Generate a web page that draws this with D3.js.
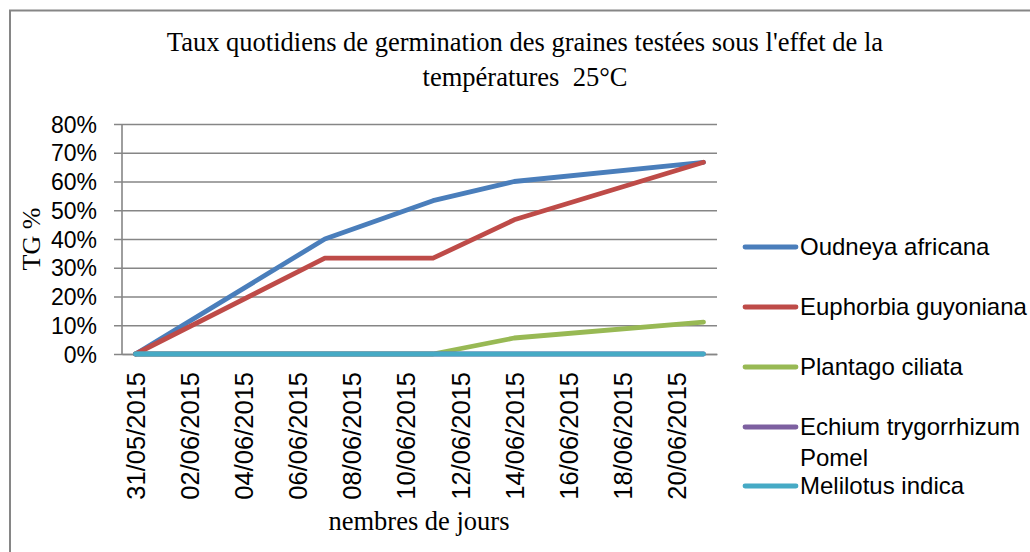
<!DOCTYPE html>
<html>
<head>
<meta charset="utf-8">
<script src="https://cdn.jsdelivr.net/npm/d3@7"></script>
<style>
  html, body { margin: 0; padding: 0; background: #fff; }
  svg { display: block; }
</style>
</head>
<body>
<svg id="chart" width="1030" height="552"></svg>
<script>
// ---- data ----
const titleLines = ["Taux quotidiens de germination des graines testées sous l'effet de la", "températures  25°C"];
const yTitle = "TG %";
const xTitle = "nembres de jours";
const obsDates = ["31/05/2015", "07/06/2015", "11/06/2015", "14/06/2015", "21/06/2015"];
const seriesNames = ["Oudneya africana", "Euphorbia guyoniana", "Plantago ciliata", "Echium trygorrhizum Pomel", "Melilotus indica"];
const oudneya   = [0, 0.40, 0.5333, 0.60, 0.6667];
const euphorbia = [0, 0.3333, 0.3333, 0.4667, 0.6667];
const plantago  = [0, 0, 0, 0.0556, 0.1111];
const echium    = [0, 0, 0, 0, 0];
const melilotus = [0, 0, 0, 0, 0];
const seriesColors = ["#4A7EBB", "#BE4B48", "#98B954", "#7D60A0", "#46AAC5"];
const xTickLabels = ["31/05/2015", "02/06/2015", "04/06/2015", "06/06/2015", "08/06/2015", "10/06/2015",
                     "12/06/2015", "14/06/2015", "16/06/2015", "18/06/2015", "20/06/2015"];
const yTicks = [0, 0.1, 0.2, 0.3, 0.4, 0.5, 0.6, 0.7, 0.8];

const seriesValues = [oudneya, euphorbia, plantago, echium, melilotus];

// ---- layout ----
const parse = d3.timeParse("%d/%m/%Y");
const svg = d3.select("#chart");
const sans = "'Liberation Sans', Arial, sans-serif";
const serif = "'Liberation Serif', 'Times New Roman', serif";
const gridColor = "#868686";

const plot = { left: 122, right: 717, top: 124, bottom: 354 };

const firstDay = parse(obsDates[0]);
const lastDay = parse(obsDates[obsDates.length - 1]);
const x = d3.scaleTime()
  .domain([d3.timeHour.offset(firstDay, -12), d3.timeHour.offset(lastDay, 12)])
  .range([plot.left, plot.right]);
const y = d3.scaleLinear().domain([0, 0.8]).range([plot.bottom, plot.top]);

svg.append("rect").attr("width", 1030).attr("height", 552).attr("fill", "#fff");

// outer chart border (right/bottom cropped)
svg.append("rect")
  .attr("x", 10).attr("y", 10.5).attr("width", 1040).attr("height", 560)
  .attr("fill", "none").attr("stroke", gridColor).attr("stroke-width", 2);

// title
const title = svg.append("text")
  .attr("font-family", serif).attr("font-size", 26.5).attr("fill", "#000")
  .attr("text-anchor", "middle")
  .style("white-space", "pre");
titleLines.forEach((t, i) => {
  title.append("tspan").attr("x", 525).attr("y", 51 + i * 35)
    .style("white-space", "pre").text(t);
});

// y axis with gridlines
const yAxis = d3.axisLeft(y)
  .tickValues(yTicks)
  .tickSize(-(plot.right - plot.left))
  .tickPadding(25)
  .tickFormat(d3.format(".0%"));
const gy = svg.append("g").attr("transform", `translate(${plot.left},0)`).call(yAxis);
gy.select(".domain").remove();
gy.selectAll(".tick line")
  .attr("x1", -8)
  .attr("stroke", gridColor).attr("stroke-width", 1.6);
gy.selectAll(".tick text")
  .attr("font-family", sans).attr("font-size", 23).attr("fill", "#000")
  .attr("x", -25).attr("dy", "0.35em");

// y axis line
svg.append("line")
  .attr("x1", plot.left).attr("x2", plot.left)
  .attr("y1", plot.top).attr("y2", plot.bottom)
  .attr("stroke", gridColor).attr("stroke-width", 1.6);

// x axis
const xAxis = d3.axisBottom(x)
  .tickValues(xTickLabels.map(parse))
  .tickSize(0)
  .tickFormat(d3.timeFormat("%d/%m/%Y"));
const gx = svg.append("g").attr("transform", `translate(0,${plot.bottom})`).call(xAxis);
gx.select(".domain").attr("stroke", gridColor).attr("stroke-width", 1.6);
gx.selectAll(".tick text")
  .attr("font-family", sans).attr("font-size", 25.5).attr("fill", "#000")
  .attr("text-anchor", "end")
  .attr("transform", "translate(0,18) rotate(-90)")
  .attr("x", 0).attr("y", 0).attr("dy", "0.35em");

// lines
const line = d3.line()
  .x((d, i) => x(parse(obsDates[i])))
  .y(d => y(d));
seriesValues.forEach((vals, k) => {
  svg.append("path")
    .datum(vals)
    .attr("d", line)
    .attr("fill", "none")
    .attr("stroke", seriesColors[k])
    .attr("stroke-width", 4.8)
    .attr("stroke-linecap", "round")
    .attr("stroke-linejoin", "round");
});

// axis titles
svg.append("text")
  .attr("font-family", serif).attr("font-size", 26).attr("fill", "#000")
  .attr("text-anchor", "middle")
  .attr("transform", `translate(40,${(plot.top + plot.bottom) / 2}) rotate(-90)`)
  .text(yTitle);
svg.append("text")
  .attr("font-family", serif).attr("font-size", 26.5).attr("fill", "#000")
  .attr("text-anchor", "middle")
  .attr("x", 419).attr("y", 530)
  .text(xTitle);

// legend
const legendY = [247, 307, 367, 427, 486];
const lg = svg.append("g");
seriesNames.forEach((name, k) => {
  const g = lg.append("g").attr("transform", `translate(0,${legendY[k]})`);
  g.append("line")
    .attr("x1", 745).attr("x2", 796).attr("y1", 0).attr("y2", 0)
    .attr("stroke", seriesColors[k]).attr("stroke-width", 4.8)
    .attr("stroke-linecap", "round");
  const t = g.append("text")
    .attr("font-family", sans).attr("font-size", 24).attr("fill", "#000")
    .attr("x", 800).attr("y", 0).attr("dy", "0.35em");
  if (name === "Echium trygorrhizum Pomel") {
    t.append("tspan").attr("x", 800).text("Echium trygorrhizum");
    t.append("tspan").attr("x", 800).attr("dy", 31).text("Pomel");
  } else {
    t.text(name);
  }
});
</script>
</body>
</html>
